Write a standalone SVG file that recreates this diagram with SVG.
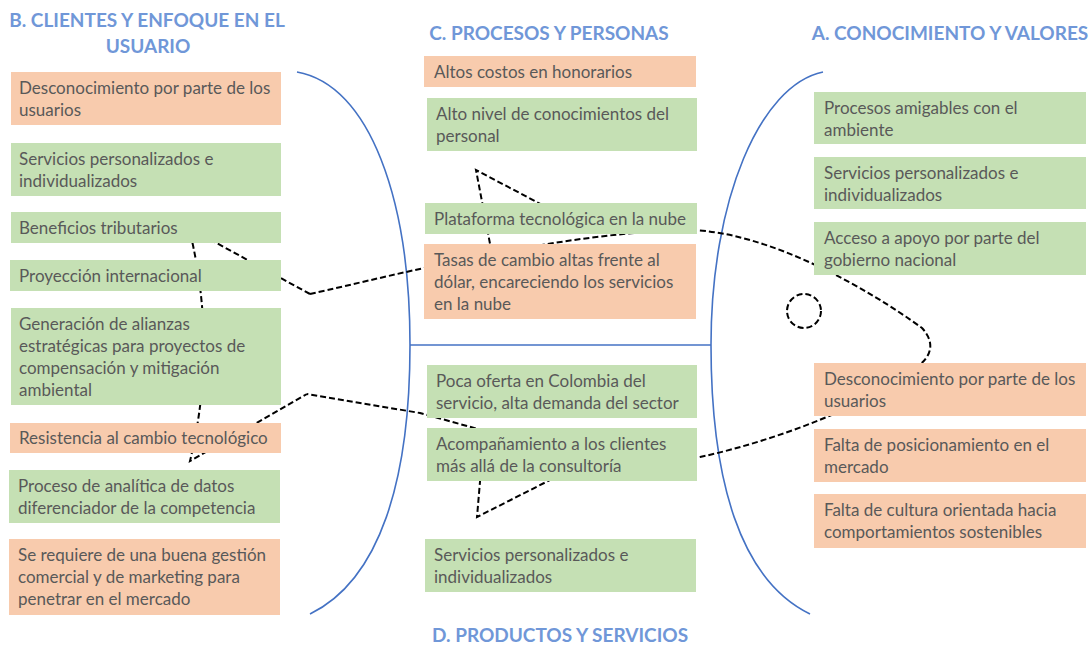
<svg xmlns="http://www.w3.org/2000/svg" width="1091" height="647" viewBox="0 0 1091 647">
<style>
.g{fill:#c5e0b4}
.o{fill:#f8cbad}
.t{font-family:Lato,"Liberation Sans",sans-serif;font-size:17px;fill:#595959}
.h{font-family:Lato,"Liberation Sans",sans-serif;font-size:19px;font-weight:bold;fill:#7097d8;text-anchor:middle}
.b{fill:none;stroke:#4472c4;stroke-width:1.6}
.d{fill:none;stroke:#000;stroke-width:2;stroke-dasharray:6,3}
</style>
<rect width="1091" height="647" fill="#fff"/>
<g id="titles">
<text class="h" x="147" y="27">B. CLIENTES Y ENFOQUE EN EL</text>
<text class="h" x="148" y="53">USUARIO</text>
<text class="h" x="549" y="40">C. PROCESOS Y PERSONAS</text>
<text class="h" x="950" y="40">A. CONOCIMIENTO Y VALORES</text>
<text class="h" x="560" y="642">D. PRODUCTOS Y SERVICIOS</text>
</g>
<g id="connectors">
<path class="b" d="M297,72 C370,85 410,200 410,345 C410,480 380,580 310,614"/>
<path class="b" d="M823,72 C760,85 711,200 711,345 C711,480 740,580 810,614"/>
<path class="b" d="M410,345 H711"/>
<path class="d" d="M310,294 C400,274 560,232 690,230 C770,232 870,290 922,328 C935,342 932,356 918,366 C880,400 780,440 700,457 C620,474 520,440 420,413 L307,394"/>
<path class="d" d="M310,294 L189,228 Q218,345 190,461 L307,394"/>
<path class="d" d="M495,270 L476,170 L550,209"/>
<path class="d" d="M481,470 L477,517 L560,475"/>
<circle class="d" cx="804" cy="311" r="17"/>
</g>
<g id="b1"><rect class="o" x="11" y="72" width="270" height="53"/><text class="t" x="19" y="94">Desconocimiento por parte de los</text><text class="t" x="19" y="116">usuarios</text></g>
<g id="b2"><rect class="g" x="11" y="143" width="270" height="53"/><text class="t" x="19" y="165">Servicios personalizados e</text><text class="t" x="19" y="187">individualizados</text></g>
<g id="b3"><rect class="g" x="11" y="212" width="270" height="31"/><text class="t" x="19" y="234">Beneficios tributarios</text></g>
<g id="b4"><rect class="g" x="10" y="260" width="271" height="31"/><text class="t" x="19" y="282">Proyección internacional</text></g>
<g id="b5"><rect class="g" x="11" y="308" width="270" height="97"/><text class="t" x="19" y="330">Generación de alianzas</text><text class="t" x="19" y="352">estratégicas para proyectos de</text><text class="t" x="19" y="374">compensación y mitigación</text><text class="t" x="19" y="396">ambiental</text></g>
<g id="b6"><rect class="o" x="10" y="423" width="271" height="30"/><text class="t" x="19" y="444">Resistencia al cambio tecnológico</text></g>
<g id="b7"><rect class="g" x="9" y="470" width="271" height="53"/><text class="t" x="18" y="492">Proceso de analítica de datos</text><text class="t" x="18" y="514">diferenciador de la competencia</text></g>
<g id="b8"><rect class="o" x="9" y="539" width="271" height="76"/><text class="t" x="18" y="561">Se requiere de una buena gestión</text><text class="t" x="18" y="583">comercial y de marketing para</text><text class="t" x="18" y="605">penetrar en el mercado</text></g>
<g id="c1"><rect class="o" x="424" y="56" width="272" height="31"/><text class="t" x="434" y="78">Altos costos en honorarios</text></g>
<g id="c2"><rect class="g" x="427" y="98" width="270" height="53"/><text class="t" x="436" y="120">Alto nivel de conocimientos del</text><text class="t" x="436" y="142">personal</text></g>
<g id="c3"><rect class="g" x="425" y="203" width="272" height="31"/><text class="t" x="434" y="225">Plataforma tecnológica en la nube</text></g>
<g id="c4"><rect class="o" x="424" y="244" width="272" height="75"/><text class="t" x="434" y="266">Tasas de cambio altas frente al</text><text class="t" x="434" y="288">dólar, encareciendo los servicios</text><text class="t" x="434" y="310">en la nube</text></g>
<g id="d1"><rect class="g" x="427" y="365" width="270" height="53"/><text class="t" x="436" y="387">Poca oferta en Colombia del</text><text class="t" x="436" y="409">servicio, alta demanda del sector</text></g>
<g id="d2"><rect class="g" x="427" y="428" width="270" height="53"/><text class="t" x="436" y="450">Acompañamiento a los clientes</text><text class="t" x="436" y="472">más allá de la consultoría</text></g>
<g id="d3"><rect class="g" x="425" y="539" width="271" height="53"/><text class="t" x="434" y="561">Servicios personalizados e</text><text class="t" x="434" y="583">individualizados</text></g>
<g id="a1"><rect class="g" x="814" y="92" width="272" height="52"/><text class="t" x="824" y="114">Procesos amigables con el</text><text class="t" x="824" y="136">ambiente</text></g>
<g id="a2"><rect class="g" x="814" y="157" width="272" height="52"/><text class="t" x="824" y="179">Servicios personalizados e</text><text class="t" x="824" y="201">individualizados</text></g>
<g id="a3"><rect class="g" x="814" y="222" width="272" height="53"/><text class="t" x="824" y="244">Acceso a apoyo por parte del</text><text class="t" x="824" y="266">gobierno nacional</text></g>
<g id="a4"><rect class="o" x="814" y="363" width="272" height="53"/><text class="t" x="824" y="385">Desconocimiento por parte de los</text><text class="t" x="824" y="407">usuarios</text></g>
<g id="a5"><rect class="o" x="814" y="429" width="272" height="53"/><text class="t" x="824" y="451">Falta de posicionamiento en el</text><text class="t" x="824" y="473">mercado</text></g>
<g id="a6"><rect class="o" x="814" y="494" width="272" height="54"/><text class="t" x="824" y="516">Falta de cultura orientada hacia</text><text class="t" x="824" y="538">comportamientos sostenibles</text></g>
</svg>
